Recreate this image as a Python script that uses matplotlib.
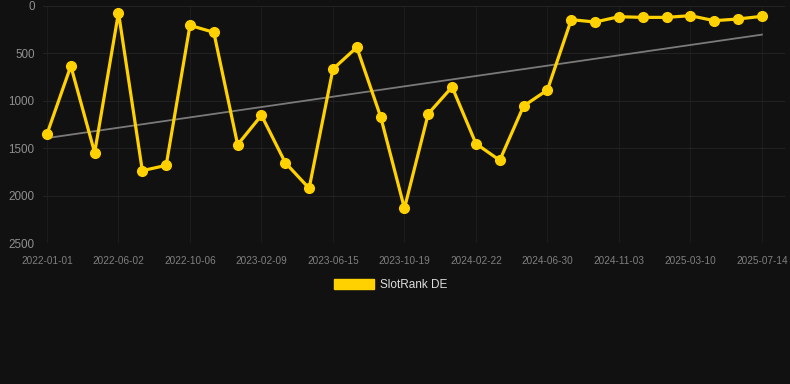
import matplotlib
matplotlib.use("Agg")
import matplotlib.pyplot as plt
import numpy as np
from matplotlib.patches import Patch

dates = ["2022-01-01", "2022-06-02", "2022-10-06", "2023-02-09", "2023-06-15",
         "2023-10-19", "2024-02-22", "2024-06-30", "2024-11-03", "2025-03-10",
         "2025-07-14"]
rank = [1350, 633, 1547, 70, 1737, 1681, 204, 278, 1463, 1153,
        1653, 1923, 665, 436, 1167, 2134, 1136, 854, 1452, 1628,
        1055, 886, 144, 169, 113, 120, 120, 102, 155, 137, 109]
series_name = "SlotRank DE"
yticks = [0, 500, 1000, 1500, 2000, 2500]

bg = "#111111"
yellow = "#FFD100"

plt.rcParams['font.family'] = ['Liberation Sans', 'DejaVu Sans']

fig = plt.figure(figsize=(7.9, 3.84), dpi=100, facecolor=bg)
ax = fig.add_axes([43/790, (384-243)/384, (785-43)/790, (243-6)/384])
ax.set_facecolor(bg)

x = np.arange(len(rank))
ax.plot(x, rank, color=yellow, lw=2.3, marker='o', ms=7, zorder=3, clip_on=False)

coef = np.polyfit(x, rank, 1)
ax.plot([x[0], x[-1]], np.polyval(coef, [x[0], x[-1]]), color="#7a7a7a", lw=1.3, zorder=2)

ax.set_ylim(2500, 0)
ax.set_xlim(-0.168, 30.97)
ax.set_yticks(yticks)
ax.set_yticklabels([str(v) for v in yticks])
tick_pos = np.arange(0, len(rank), 3)
ax.set_xticks(tick_pos)
ax.set_xticklabels(dates)

ax.grid(True, axis='y', color="#222222", lw=0.8)
ax.grid(True, axis='x', color="#1c1c1c", lw=0.8)
ax.set_axisbelow(True)
for s in ax.spines.values():
    s.set_visible(False)
ax.tick_params(axis='y', length=0, pad=6, labelsize=8.4, labelcolor="#8f8f8f")
ax.tick_params(axis='x', length=0, pad=9, labelsize=7.2, labelcolor="#808080")

handle = Patch(facecolor=yellow, edgecolor=yellow)
leg = fig.legend([handle], [series_name], loc='center',
                 bbox_to_anchor=(0.5 - 4.5/790, 1 - 285/384),
                 frameon=False, fontsize=8.5, handlelength=3.4, handleheight=1.0,
                 handletextpad=0.5)
for t in leg.get_texts():
    t.set_color("#dddddd")

fig.savefig("out.png", dpi=100, facecolor=bg)
